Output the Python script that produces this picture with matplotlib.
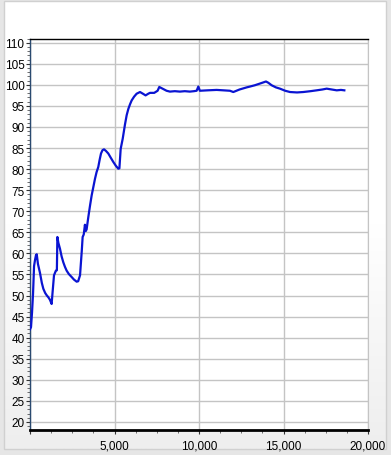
import numpy as np
import matplotlib
matplotlib.use("Agg")
import matplotlib.pyplot as plt
from matplotlib.ticker import MultipleLocator, FuncFormatter
from matplotlib.patches import Rectangle

plt.rcParams["font.family"] = ["Liberation Sans", "DejaVu Sans"]

# valori
x_vals = [0, 60, 120, 180, 240, 300, 355, 400, 470, 590, 700, 790, 900, 1000,
          1085, 1180, 1280, 1330, 1420, 1530, 1590, 1620, 1680, 1775, 1870,
          1970, 2070, 2170, 2300, 2465, 2600, 2760, 2850, 2960, 3060, 3115,
          3180, 3250, 3300, 3350, 3450, 3550, 3650, 3750, 3845, 3940, 4040,
          4120, 4200, 4290, 4380, 4500, 4635, 4780, 4930, 5080, 5225, 5290,
          5365, 5485, 5620, 5720, 5820, 5920, 6015, 6160, 6310, 6510, 6680,
          6840, 7000, 7100, 7350, 7550, 7650, 7890, 8080, 8280, 8570, 8870,
          9160, 9460, 9700, 9860, 9960, 10050, 10500, 11045, 11450, 11830,
          12030, 12400, 12820, 13020, 13300, 13600, 13965, 14100, 14300,
          14550, 14790, 15100, 15385, 15800, 16170, 16600, 16960, 17300,
          17555, 17850, 18150, 18400, 18600]
y_vals = [42.0, 42.5, 46.0, 50.5, 57.0, 58.5, 59.6, 59.8, 57.5, 55.4, 53.0,
          51.6, 50.6, 50.0, 49.6, 49.0, 48.0, 50.5, 54.8, 55.9, 56.0, 63.9,
          62.5, 61.1, 59.3, 57.9, 56.8, 55.9, 55.1, 54.4, 53.8, 53.3, 53.4,
          54.8, 60.4, 63.9, 64.5, 66.8, 65.3, 65.7, 68.6, 71.3, 73.8, 75.8,
          77.7, 79.3, 80.5, 82.2, 83.7, 84.5, 84.7, 84.3, 83.7, 82.7, 81.7,
          80.8, 80.1, 80.2, 84.8, 87.2, 90.6, 92.8, 94.3, 95.4, 96.3, 97.2,
          97.9, 98.3, 97.9, 97.5, 97.9, 98.1, 98.1, 98.6, 99.5, 99.0, 98.6,
          98.4, 98.5, 98.4, 98.5, 98.4, 98.5, 98.6, 99.6, 98.6, 98.7, 98.8,
          98.7, 98.6, 98.3, 98.9, 99.4, 99.6, 99.9, 100.3, 100.8, 100.5,
          99.9, 99.4, 99.1, 98.6, 98.3, 98.2, 98.3, 98.5, 98.7, 98.9, 99.1,
          98.9, 98.7, 98.8, 98.7]

fig = plt.figure(figsize=(3.91, 4.56), dpi=100, facecolor="#e6e6e6")

# sfondo con sfumatura
bg = fig.add_axes([0, 0, 1, 1], zorder=0)
bg.set_xlim(0, 391)
bg.set_ylim(456, 0)
bg.axis("off")
grad = np.linspace(0, 1, 256).reshape(-1, 1)
bg.imshow(grad, extent=(4, 386, 450, 2), cmap=plt.matplotlib.colors.LinearSegmentedColormap.from_list(
    "g", ["#ffffff", "#ffffff", "#eeeeee"]), aspect="auto", zorder=0)
bg.add_patch(Rectangle((4, 2), 382, 448, fill=False, edgecolor="#d0d0d0", lw=1))

ax = fig.add_axes([30 / 391, (456 - 431) / 456, 338 / 391, 391.5 / 456], zorder=1)
ax.set_facecolor("white")
ax.plot(x_vals, y_vals, color="#0a14d2", lw=1.6, zorder=3)

ax.set_xlim(0, 20000)
ax.set_ylim(18.1, 111.0)

ax.xaxis.set_major_locator(MultipleLocator(5000))
ax.xaxis.set_minor_locator(MultipleLocator(1250))
ax.yaxis.set_major_locator(MultipleLocator(5))
ax.yaxis.set_minor_locator(MultipleLocator(1))
ax.xaxis.set_major_formatter(FuncFormatter(lambda v, p: "" if v == 0 else f"{int(v):,}"))

ax.grid(True, which="major", color="#c4c4c4", lw=1)
ax.set_axisbelow(True)

ax.tick_params(axis="both", which="major", labelsize=8.5, length=3, width=0.8,
               color="#333333", pad=1)
ax.tick_params(axis="both", which="minor", length=2, width=0.6, color="#555555")
ax.tick_params(axis="x", which="major", pad=4)

ax.spines["bottom"].set_linewidth(2)
ax.spines["bottom"].set_color("black")
ax.spines["top"].set_linewidth(1)
ax.spines["top"].set_color("black")
ax.spines["left"].set_color("#2a4a70")
ax.spines["left"].set_linewidth(1)
ax.spines["right"].set_color("#c4c4c4")

fig.savefig("out.png", dpi=100, facecolor=fig.get_facecolor())
